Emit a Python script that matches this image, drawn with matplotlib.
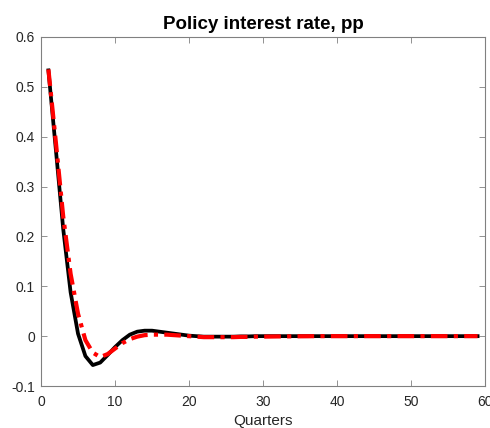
import numpy as np
import matplotlib.pyplot as plt

plt.rcParams['font.family'] = ['Liberation Sans', 'DejaVu Sans']

quarters = np.arange(1, 60)

# policy rate responses, first 30 quarters; afterwards settled at zero
baseline_head = [0.533, 0.375, 0.215, 0.088, 0.005, -0.040, -0.058, -0.053, -0.038,
                 -0.022, -0.008, 0.003, 0.009, 0.011, 0.011, 0.009, 0.007, 0.005,
                 0.003, 0.001, 0.000, -0.001, -0.001, -0.001, -0.001, -0.001,
                 -0.0005, -0.0005, 0.0, 0.0]
alt_head = [0.535, 0.390, 0.240, 0.125, 0.045, -0.008, -0.033, -0.042, -0.036,
            -0.025, -0.014, -0.006, -0.001, 0.002, 0.003, 0.003, 0.003, 0.002,
            0.001, 0.000, -0.001, -0.002, -0.002, -0.002, -0.002, -0.002,
            -0.0015, -0.0015, -0.001, -0.001]
baseline = np.array(baseline_head + [0.0] * (len(quarters) - len(baseline_head)))
alt = np.array(alt_head + [-0.0008, -0.0006, -0.0005, -0.0004, -0.0003, -0.0002]
               + [0.0] * (len(quarters) - len(alt_head) - 6))

fig = plt.figure(figsize=(4.9, 4.28), dpi=100)
ax = fig.add_axes([0.0837, 0.0981, 0.9061, 0.8155])

ax.plot(quarters, baseline, color='black', lw=2.7, solid_joinstyle='round')
ax.plot(quarters, alt, color='red', lw=3.0, linestyle=(0, (4, 1.5, 1, 1.5)))

ax.set_xlim(0, 60)
ax.set_ylim(-0.1, 0.6)
ax.set_xticks(np.arange(0, 61, 10))
ax.set_yticks(np.arange(-0.1, 0.61, 0.1))
ax.set_yticklabels(['-0.1', '0', '0.1', '0.2', '0.3', '0.4', '0.5', '0.6'])
ax.tick_params(direction='in', top=True, right=True, length=4, width=0.6,
               colors='#262626', labelsize=10, color='#808080')
ax.tick_params(axis='x', pad=6.5)
ax.tick_params(axis='y', pad=4.5)
for s in ax.spines.values():
    s.set_color('#808080')
    s.set_linewidth(0.8)

ax.set_xlabel('Quarters', fontsize=11, color='#262626', labelpad=3.5)
ax.set_title('Policy interest rate, pp', fontsize=13.5, fontweight='bold', pad=6)

fig.savefig('out.png', dpi=100)
